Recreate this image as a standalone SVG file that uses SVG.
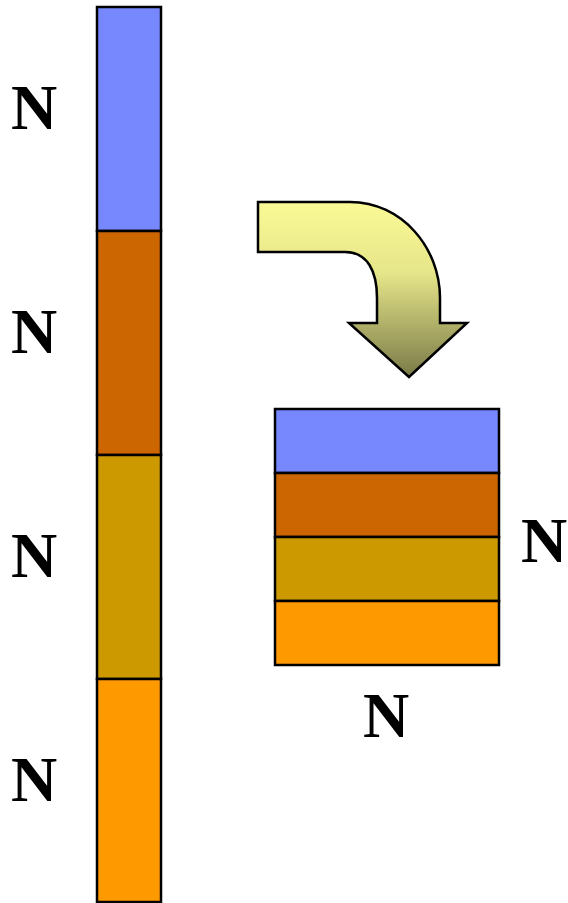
<svg xmlns="http://www.w3.org/2000/svg" width="568" height="903" viewBox="0 0 568 903">
<style>
.s{stroke:#000;stroke-width:2.5}
.b{fill:#7788FF}.r{fill:#CC6600}.g{fill:#CC9900}.o{fill:#FF9900}
text{font-family:"Liberation Serif","Times New Roman",serif;font-weight:bold;font-size:64px;fill:#000;text-anchor:middle}
</style>
<defs>
<linearGradient id="ag" x1="0" y1="0" x2="0" y2="1">
<stop offset="0" stop-color="#FAFA96"/>
<stop offset="0.4" stop-color="#E6E68A"/>
<stop offset="1" stop-color="#7A7A48"/>
</linearGradient>
</defs>
<rect width="568" height="903" fill="#fff"/>
<g id="bar">
<rect class="s b" x="97" y="7" width="64" height="224"/>
<rect class="s r" x="97" y="231" width="64" height="224"/>
<rect class="s g" x="97" y="455" width="64" height="224"/>
<rect class="s o" x="97" y="679" width="64" height="223"/>
</g>
<g id="labels-left">
<text x="34" y="129">N</text>
<text x="34" y="353">N</text>
<text x="34" y="577">N</text>
<text x="34" y="801">N</text>
</g>
<g id="arrow">
<path class="s" fill="url(#ag)" d="M258,202 L350,202 C402,202 440,248 440,298 L440,323 L467,323 L409,377 L349,323 L377,323 L377,298 C377,272 368,252 345,252 L258,252 Z"/>
</g>
<g id="block">
<rect class="s b" x="275" y="409" width="224" height="64"/>
<rect class="s r" x="275" y="473" width="224" height="64"/>
<rect class="s g" x="275" y="537" width="224" height="64"/>
<rect class="s o" x="275" y="601" width="224" height="64"/>
</g>
<g id="labels-right">
<text x="544" y="562">N</text>
<text x="386" y="737">N</text>
</g>
</svg>
